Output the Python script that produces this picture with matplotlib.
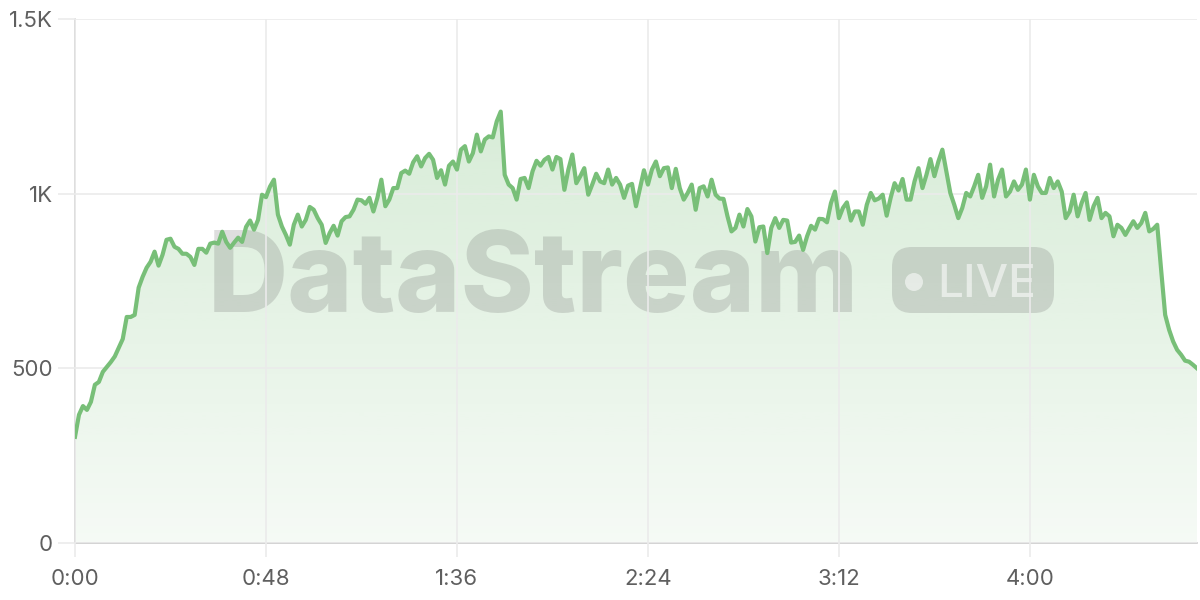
import numpy as np
import matplotlib.pyplot as plt
from matplotlib.colors import to_rgb
from matplotlib.patches import FancyBboxPatch, Circle
from matplotlib.transforms import IdentityTransform

# concurrent viewers, one reading per minute (0:00 .. 4:42)
viewers = [
    304, 367, 392, 381, 404, 453, 461, 490, 504, 518,
    534, 559, 584, 647, 647, 653, 731, 762, 788, 805,
    834, 794, 825, 868, 871, 848, 842, 828, 828, 819,
    796, 842, 842, 831, 857, 860, 857, 891, 862, 845,
    860, 874, 862, 905, 923, 897, 925, 997, 990, 1020,
    1040, 940, 906, 882, 854, 911, 940, 906, 925, 962,
    954, 930, 911, 859, 887, 908, 880, 921, 933, 935,
    954, 983, 981, 971, 988, 949, 988, 1040, 964, 983,
    1016, 1016, 1059, 1066, 1057, 1090, 1107, 1078, 1102, 1114,
    1097, 1045, 1067, 1026, 1080, 1092, 1069, 1126, 1136, 1092,
    1116, 1169, 1121, 1155, 1164, 1161, 1207, 1235, 1054, 1026,
    1016, 983, 1042, 1045, 1016, 1064, 1094, 1080, 1097, 1105,
    1069, 1105, 1099, 1011, 1069, 1112, 1030, 1050, 1073, 997,
    1026, 1057, 1035, 1030, 1069, 1026, 1045, 1026, 988, 1023,
    1028, 964, 1016, 1067, 1026, 1069, 1092, 1050, 1073, 1075,
    1016, 1071, 1016, 983, 1002, 1026, 954, 1016, 1021, 992,
    1040, 997, 986, 985, 935, 892, 902, 940, 906, 956,
    935, 863, 904, 906, 830, 902, 930, 902, 925, 923,
    860, 862, 880, 839, 878, 908, 897, 928, 927, 918,
    973, 1006, 930, 959, 975, 923, 949, 949, 911, 968,
    1002, 981, 986, 997, 937, 988, 1030, 1009, 1042, 983,
    983, 1035, 1073, 1016, 1054, 1099, 1050, 1092, 1126, 1064,
    1002, 968, 930, 959, 1002, 992, 1021, 1054, 988, 1021,
    1083, 992, 1040, 1069, 992, 1006, 1035, 1011, 1026, 1069,
    983, 1054, 1021, 1002, 1002, 1045, 1016, 1035, 1006, 930,
    949, 997, 935, 973, 1002, 925, 964, 988, 930, 945,
    935, 878, 911, 902, 882, 902, 921, 902, 916, 945,
    892, 899, 911, 780, 653, 610, 577, 553, 539, 522,
    519, 510, 500,
]
minutes = np.arange(len(viewers))

x_ticks = [0, 48, 96, 144, 192, 240]
x_tick_labels = ["0:00", "0:48", "1:36", "2:24", "3:12", "4:00"]
y_ticks = [0, 500, 1000, 1500]
y_tick_labels = ["0", "500", "1K", "1.5K"]

line_color = "#78bf78"
grid_color = "#ebebeb"
text_color = "#5f5f5f"

plt.rcParams["font.family"] = ["Inter", "DejaVu Sans"]

W, H = 1200, 600
fig = plt.figure(figsize=(12, 6), dpi=100)
ax = fig.add_axes([75 / W, 57 / H, 1122 / W, 524 / H])

# gradient fill under the line
area = ax.fill_between(minutes, viewers, 0, facecolor="none", edgecolor="none")
grad = np.zeros((256, 1, 4))
grad[..., :3] = to_rgb(line_color)
grad[..., 3] = np.linspace(0.07, 0.34, 256)[:, None]
img = ax.imshow(grad, extent=[0, minutes[-1], 0, 1500], origin="lower",
                aspect="auto", zorder=1, interpolation="bilinear")
img.set_clip_path(area.get_paths()[0], transform=ax.transData)

ax.plot(minutes, viewers, color=line_color, lw=3.0, zorder=4)

# watermark
ident = IdentityTransform()
wm = "#5a5a5a"
ax.text(208, H - 312, "DataStream", transform=ident, fontsize=80,
        fontweight=800, color=wm, alpha=0.2, ha="left", va="baseline", zorder=2)
r = 20
badge = FancyBboxPatch((892 + r, H - 313 + r), 162 - 2 * r, 66 - 2 * r,
                       boxstyle=f"round,pad={r}", transform=ident,
                       fc=wm, ec="none", alpha=0.2, zorder=2)
ax.add_artist(badge)
ax.add_artist(Circle((914, H - 282), 9, transform=ident, fc="white",
                     ec="none", alpha=0.55, zorder=2.1))
ax.text(937, H - 297, "LIVE", transform=ident, fontsize=33,
        fontweight="medium", color="white", alpha=0.55,
        ha="left", va="baseline", zorder=2.1)

ax.set_xlim(0, minutes[-1])
ax.set_ylim(0, 1500)
ax.set_xticks(x_ticks, x_tick_labels)
ax.set_yticks(y_ticks, y_tick_labels)
ax.grid(True, color=grid_color, lw=1.2)
ax.set_axisbelow(False)

for s in ["top", "right"]:
    ax.spines[s].set_visible(False)
ax.spines["left"].set_color("#d8d8d8")
ax.spines["bottom"].set_color("#cccccc")
ax.spines["left"].set_linewidth(1.2)
ax.spines["bottom"].set_linewidth(1.2)

ax.tick_params(axis="y", length=12, width=1.2, color=grid_color, pad=4,
               labelsize=16, labelcolor=text_color)
ax.tick_params(axis="x", length=10, width=1.2, color=grid_color, pad=9,
               labelsize=16, labelcolor=text_color)

fig.savefig("out.png", dpi=100)
